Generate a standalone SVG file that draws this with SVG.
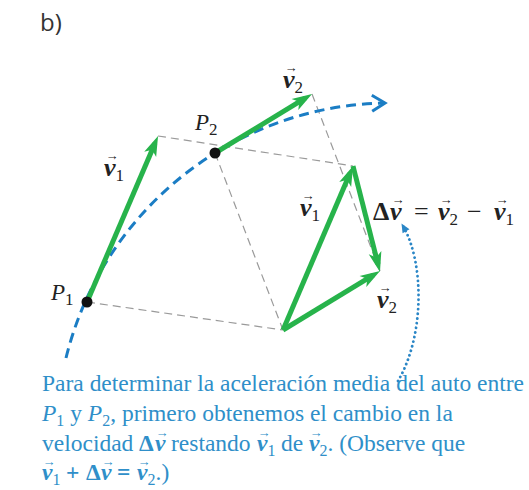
<svg xmlns="http://www.w3.org/2000/svg" width="529" height="490" viewBox="0 0 529 490">
<style>
.vec{fill:none;stroke:#27b34b;stroke-width:5;stroke-linecap:butt;marker-end:url(#gh)}
.guide{fill:none;stroke:#9a9a9a;stroke-width:1.2;stroke-dasharray:8 5}
.path{fill:none;stroke:#1b7dc4;stroke-width:3;stroke-dasharray:10 6;marker-end:url(#ch)}
.dot{fill:#111}
.lbl{font-family:"Liberation Serif","Times New Roman",serif;fill:#222}
.vb{font-weight:bold;font-style:italic}
.sub{font-size:17px;font-weight:normal;font-style:normal}
.arr{font-family:"Liberation Serif","DejaVu Serif",serif;font-size:13px;text-anchor:middle}
.cap{font-family:"Liberation Serif","Times New Roman",serif;font-size:23.5px;fill:#2f8fc9}
.csub{font-size:16px}
</style>
<defs>
<marker id="gh" markerUnits="userSpaceOnUse" markerWidth="24" markerHeight="16" refX="12" refY="6.5" orient="auto" overflow="visible">
<path d="M0,0 L20,6.5 L0,13 L5,6.5 Z" fill="#27b34b"/>
</marker>
<marker id="ch" markerUnits="userSpaceOnUse" markerWidth="20" markerHeight="20" refX="11" refY="8" orient="auto" overflow="visible">
<path d="M0,0 L13,8 L0,16" fill="none" stroke="#1b7dc4" stroke-width="3"/>
</marker>
<marker id="bh" markerUnits="userSpaceOnUse" markerWidth="12" markerHeight="12" refX="6" refY="4" orient="auto" overflow="visible">
<path d="M0,0 L9,4 L0,8 Z" fill="#2a86c6"/>
</marker>
</defs>
<rect width="529" height="490" fill="#fff"/>
<text x="40" y="31" font-family="Open Sans, Liberation Sans, sans-serif" font-size="24" fill="#333">b)</text>

<g id="connectors">
<path class="guide" d="M87,302 L283,330"/>
<path class="guide" d="M158,136 L353,166"/>
<path class="guide" d="M215,153 L283,330"/>
<path class="guide" d="M312,94 L380,271"/>
<path class="path" d="M66,358 A335,335 0 0 1 383,103"/>
<path class="vec" d="M87,302 L154.9,143.4"/>
<path class="vec" d="M215,153 L305.2,98.2"/>
<path class="vec" d="M283,330 L349.9,173.4"/>
<path class="vec" d="M353,166 L378,264.2"/>
<path class="vec" d="M283,330 L373.2,275.2"/>
<path d="M398,381 C425,335 424,262 403,226" fill="none" stroke="#2a86c6" stroke-width="2.8" stroke-linecap="round" stroke-dasharray="0.1 4.6" marker-end="url(#bh)"/>
</g>

<g id="P1">
<circle class="dot" cx="87" cy="302" r="5.5"/>
<text class="lbl" x="51" y="300" font-size="23" font-style="italic">P<tspan class="sub" dy="5" font-size="16">1</tspan></text>
</g>
<g id="P2">
<circle class="dot" cx="215" cy="153" r="5.5"/>
<text class="lbl" x="195" y="130" font-size="23" font-style="italic">P<tspan class="sub" dy="5" font-size="16">2</tspan></text>
</g>

<g id="label-v1-left" class="lbl">
<text class="vb" x="104" y="176" font-size="26">v<tspan class="sub" dy="5">1</tspan></text>
<text class="arr" x="112" y="160">→</text>
</g>
<g id="label-v2-top" class="lbl">
<text class="vb" x="283" y="88" font-size="26">v<tspan class="sub" dy="5">2</tspan></text>
<text class="arr" x="291" y="72">→</text>
</g>
<g id="label-v1-mid" class="lbl">
<text class="vb" x="300" y="216" font-size="26">v<tspan class="sub" dy="5">1</tspan></text>
<text class="arr" x="308" y="200">→</text>
</g>
<g id="label-v2-bottom" class="lbl">
<text class="vb" x="377" y="308" font-size="26">v<tspan class="sub" dy="5">2</tspan></text>
<text class="arr" x="385" y="292">→</text>
</g>
<g id="label-dv" class="lbl" font-size="26">
<text x="373" y="220" font-weight="bold">Δ</text>
<text class="vb" x="390" y="220">v</text>
<text class="arr" x="398" y="204">→</text>
<text x="414" y="220">=</text>
<text class="vb" x="438" y="220">v<tspan class="sub" dy="5">2</tspan></text>
<text class="arr" x="446" y="204">→</text>
<text x="467" y="220">−</text>
<text class="vb" x="494" y="220">v<tspan class="sub" dy="5">1</tspan></text>
<text class="arr" x="502" y="204">→</text>
</g>

<g id="caption" class="cap">
<text x="42" y="391" textLength="482" lengthAdjust="spacing">Para determinar la aceleración media del auto entre</text>
<text x="42" y="421"><tspan font-style="italic">P</tspan><tspan class="csub" dy="5">1</tspan><tspan dy="-5"> y </tspan><tspan font-style="italic">P</tspan><tspan class="csub" dy="5">2</tspan><tspan dy="-5">, primero obtenemos el cambio en la</tspan></text>
<text x="42" y="451">velocidad</text>
<text x="139" y="451" font-weight="bold">Δ</text>
<text x="155" y="451" font-weight="bold" font-style="italic">v</text>
<text class="arr" x="162" y="437" fill="#2f8fc9">→</text>
<text x="171" y="451">restando</text>
<text x="257" y="451" font-weight="bold" font-style="italic">v</text>
<text class="arr" x="264" y="437" fill="#2f8fc9">→</text>
<text x="267.5" y="456" class="csub">1</text>
<text x="281" y="451">de</text>
<text x="309" y="451" font-weight="bold" font-style="italic">v</text>
<text class="arr" x="316" y="437" fill="#2f8fc9">→</text>
<text x="319.5" y="456" class="csub">2</text>
<text x="327.5" y="451">. (Observe que</text>
<text x="42" y="480" font-weight="bold" font-style="italic">v</text>
<text class="arr" x="49" y="466" fill="#2f8fc9">→</text>
<text x="52.5" y="485" class="csub">1</text>
<text x="66" y="480" font-weight="bold">+</text>
<text x="86" y="480" font-weight="bold">Δ</text>
<text x="101" y="480" font-weight="bold" font-style="italic">v</text>
<text class="arr" x="108" y="466" fill="#2f8fc9">→</text>
<text x="117" y="480" font-weight="bold">=</text>
<text x="137" y="480" font-weight="bold" font-style="italic">v</text>
<text class="arr" x="144" y="466" fill="#2f8fc9">→</text>
<text x="147.5" y="485" class="csub">2</text>
<text x="155.5" y="480">.)</text>
</g>
</svg>
